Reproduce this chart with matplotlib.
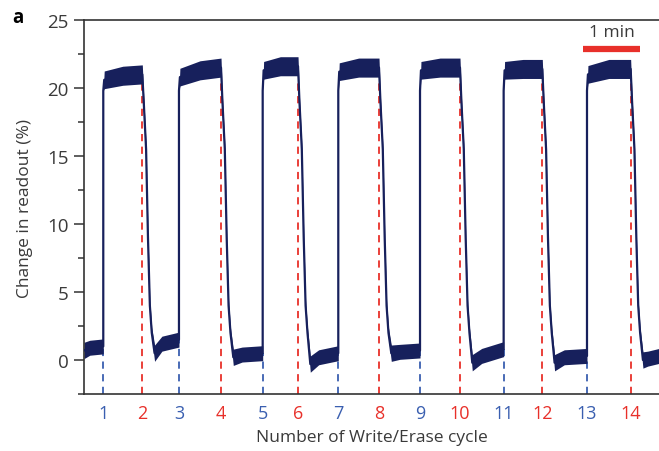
import matplotlib
matplotlib.use("Agg")
import matplotlib.pyplot as plt
import numpy as np

plt.rcParams["font.family"] = ["Open Sans", "DejaVu Sans"]

# event times (s)
WRITE_T = [20.4, 100.5, 189.1, 269.1, 355.6, 444.1, 532.3]
ERASE_T = [61.7, 145.0, 226.5, 312.2, 397.9, 485.0, 578.5]
CYCLE_LABELS = [str(i) for i in range(1, 15)]

# plateau level after each write: start, middle, end (%)
PLATEAU = [(20.6, 20.9, 21.0), (20.8, 21.3, 21.5), (21.3, 21.6, 21.6),
           (21.2, 21.5, 21.5), (21.3, 21.5, 21.5), (21.3, 21.4, 21.4),
           (21.0, 21.4, 21.4)]
# low level before first write and after each erase: start, middle, end (%)
LOW = [(0.7, 0.9, 1.0), (0.5, 1.2, 1.5), (0.2, 0.4, 0.5), (-0.3, 0.2, 0.5),
       (0.5, 0.6, 0.7), (-0.2, 0.3, 0.8), (-0.2, 0.2, 0.3), (0.0, 0.1, 0.3)]
# shape of the falling edge after an erase pulse (s after erase, %)
DROP_DT = [1.5, 4.0, 6.0, 8.0, 10.0]
DROP_Y = [19.0, 15.5, 9.0, 4.0, 2.0]
DROP_END = 13.0

T_END = 608.5
NAVY = "#17205c"
RED = "#e8302a"
BLUE = "#3a5fb0"
GREY = "#3a3a3a"

# assemble the trace from the keypoints
t, y, hw = [], [], []
for k in range(len(LOW)):
    t0 = 0.0 if k == 0 else ERASE_T[k - 1] + DROP_END
    t1 = WRITE_T[k] if k < len(WRITE_T) else T_END
    la, lb, lc = LOW[k]
    t += [t0, t0 + 0.3 * (t1 - t0), t1]
    y += [la, lb, lc]
    hw += [0.6, 0.55, 0.55]
    if k < len(WRITE_T):
        pa, pb, pc = PLATEAU[k]
        w, e = WRITE_T[k], ERASE_T[k]
        t += [w, w + 1.0, (w + e) / 2, e]
        y += [19.8, pa, pb, pc]
        hw += [0.0, 0.65, 0.7, 0.7]
        t += [e + d for d in DROP_DT]
        y += DROP_Y
        hw += [0.4] * len(DROP_DT)
t, y, hw = np.array(t), np.array(y), np.array(hw)

fig = plt.figure(figsize=(6.59, 4.52), dpi=100)
ax = fig.add_axes([84 / 659, 1 - 395 / 452, 1 - 84 / 659, (395 - 21) / 452])

low_end = [l[2] for l in LOW[:len(WRITE_T)]]
ax.vlines(WRITE_T, -2.5, low_end, colors=BLUE, linestyles=(0, (4, 3)), lw=1.3, zorder=1)
ax.vlines(ERASE_T, -2.5, 20.4, colors=RED, linestyles=(0, (4, 3)), lw=1.3, zorder=1)

ax.fill_between(t, y - hw, y + hw, color=NAVY, lw=0, zorder=2)
ax.plot(t, y, color=NAVY, lw=1.6, zorder=3)

# scale bar
ax.plot([528.4, 588.4], [22.9, 22.9], color=RED, lw=4.5, solid_capstyle="butt")
ax.text(558.4, 23.5, "1 min", ha="center", va="bottom", fontsize=12.5, color=GREY)

ax.set_xlim(0, T_END)
ax.set_ylim(-2.5, 25)

events = sorted(WRITE_T + ERASE_T)
ax.set_xticks(events)
ax.set_xticklabels(CYCLE_LABELS, fontsize=13)
for i, lab in enumerate(ax.get_xticklabels()):
    lab.set_color(BLUE if i % 2 == 0 else RED)
ax.tick_params(axis="x", length=0, pad=7)

ax.set_yticks([0, 5, 10, 15, 20, 25])
ax.set_yticks(np.arange(-2.5, 25, 2.5), minor=True)
ax.tick_params(axis="y", which="major", length=7, width=1.1, labelsize=13.5,
               labelcolor=GREY, color="#333333", pad=4)
ax.tick_params(axis="y", which="minor", length=4, width=1.1, color="#333333")

ax.spines["right"].set_visible(False)
for s in ["left", "bottom", "top"]:
    ax.spines[s].set_color("#333333")
    ax.spines[s].set_linewidth(1.2)

ax.set_xlabel("Number of Write/Erase cycle", fontsize=12.5, color=GREY, labelpad=5)
ax.set_ylabel("Change in readout (%)", fontsize=12.5, color=GREY, labelpad=10)

fig.text(12 / 659, 1 - 18 / 452, "a", fontsize=13.5, fontweight="bold", va="center")

fig.savefig("out.png", dpi=100)
